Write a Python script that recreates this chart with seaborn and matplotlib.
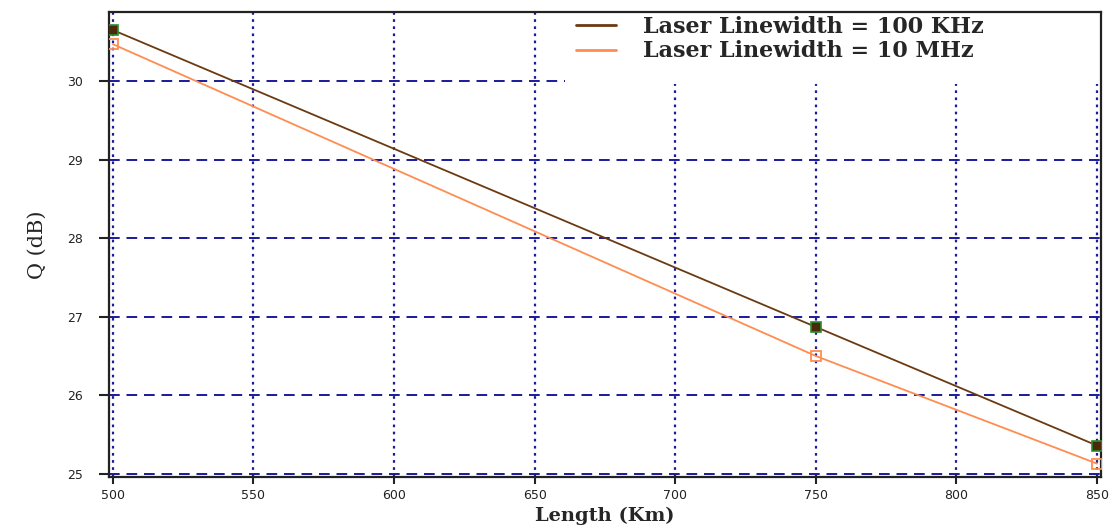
import matplotlib
matplotlib.use("Agg")
import matplotlib.pyplot as plt
from matplotlib.lines import Line2D
from matplotlib.patches import Rectangle
import seaborn as sns
import pandas as pd

length_km = [500, 750, 850]
q_100khz = [30.65, 26.87, 25.36]
q_10mhz = [30.47, 26.50, 25.13]
series_names = ["Laser Linewidth = 100 KHz", "Laser Linewidth = 10 MHz"]
x_ticks = [500, 550, 600, 650, 700, 750, 800, 850]
y_ticks = [25, 26, 27, 28, 29, 30]

sns.set_theme(style="white")
plt.rcParams["font.family"] = ["DejaVu Sans"]

fig = plt.figure(figsize=(11.2, 5.26), dpi=100)
ax = fig.add_axes([0.0973, 0.0932, 0.8857, 0.8840])

df1 = pd.DataFrame({"x": length_km, "y": q_100khz})
df2 = pd.DataFrame({"x": length_km, "y": q_10mhz})

sns.lineplot(data=df1, x="x", y="y", ax=ax, color="#6b3a12", linewidth=1.3,
             marker="s", markersize=6.5, markerfacecolor="#4a2a0a",
             markeredgecolor="#2e8b2e", markeredgewidth=1.2, zorder=4)
sns.lineplot(data=df2, x="x", y="y", ax=ax, color="#ff8c50", linewidth=1.3,
             marker="s", markersize=6.5, markerfacecolor="none",
             markeredgecolor="#ff8c50", markeredgewidth=1.3, zorder=4)

ax.set_xlim(498.6, 851.4)
ax.set_ylim(24.96, 30.88)
ax.set_xticks(x_ticks)
ax.set_yticks(y_ticks)

for xv in x_ticks:
    ax.axvline(xv, color="#1a1a9a", linestyle=(0, (1.2, 2.0)), linewidth=1.6, zorder=1)
for yv in y_ticks:
    ax.axhline(yv, color="#1a1a9a", linestyle=(0, (5.5, 3.5)), linewidth=1.4, zorder=1)

ax.add_patch(Rectangle((0.46, 0.845), 0.54, 0.155, transform=ax.transAxes,
                       facecolor="white", edgecolor="none", zorder=2))

for s in ax.spines.values():
    s.set_color("#222222")
    s.set_linewidth(1.6)

ax.tick_params(axis="both", which="major", direction="out", length=7, width=1.5,
               color="#222222", labelsize=9, labelcolor="#222222", bottom=True, left=True)
ax.tick_params(axis="x", length=5, pad=4)
ax.tick_params(axis="y", pad=12)

ax.set_xlabel("Length (Km)", fontsize=14, fontweight="bold", family="DejaVu Serif", labelpad=3)
ax.set_ylabel("Q (dB)", fontsize=15, family="DejaVu Serif", labelpad=14)

handles = [Line2D([0], [0], color="#6b3a12", linewidth=2),
           Line2D([0], [0], color="#ff8c50", linewidth=2)]
leg = ax.legend(handles, series_names, loc="upper left", bbox_to_anchor=(0.462, 1.01),
                frameon=False, prop={"family": "DejaVu Serif", "weight": "bold", "size": 16},
                handlelength=1.8, handletextpad=1.2, labelspacing=0.1, borderaxespad=0.0)
leg.set_zorder(5)

fig.savefig("out.png", dpi=100)
